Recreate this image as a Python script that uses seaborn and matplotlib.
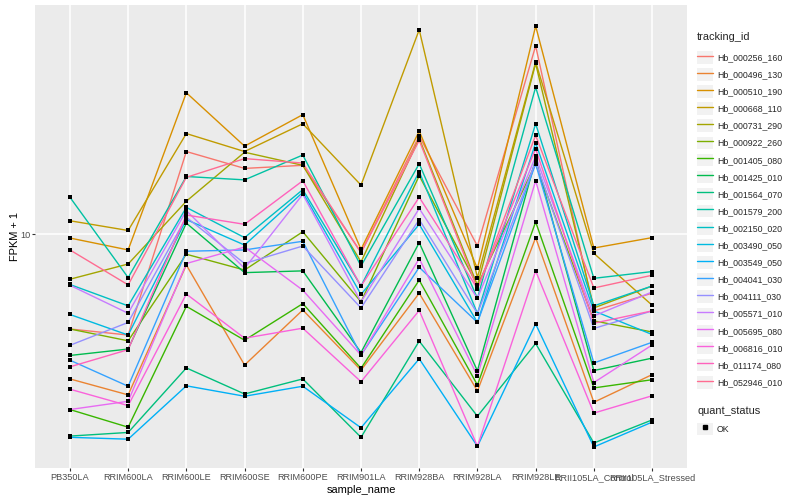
import numpy as np
import pandas as pd
import matplotlib
matplotlib.use("Agg")
import matplotlib.pyplot as plt
import seaborn as sns
from matplotlib.lines import Line2D
from matplotlib.patches import Patch
from matplotlib.legend_handler import HandlerTuple
from matplotlib.ticker import FixedLocator, FixedFormatter, NullLocator

samples = ["PB350LA", "RRIM600LA", "RRIM600LE", "RRIM600SE", "RRIM600PE", "RRIM901LA",
           "RRIM928BA", "RRIM928LA", "RRIM928LE", "RRII105LA_Control", "RRII105LA_Stressed"]

tracking_ids = ["Hb_000256_160", "Hb_000496_130", "Hb_000510_190", "Hb_000668_110",
                "Hb_000731_290", "Hb_000922_260", "Hb_001405_080", "Hb_001425_010",
                "Hb_001564_070", "Hb_001579_200", "Hb_002150_020", "Hb_003490_050",
                "Hb_003549_050", "Hb_004041_030", "Hb_004111_030", "Hb_005571_010",
                "Hb_005695_080", "Hb_006816_010", "Hb_011174_080", "Hb_052946_010"]

# ggplot hue palette, 20 levels
colors = ["#F8766D", "#EA8331", "#D89000", "#C09B00", "#A3A500", "#7CAE00", "#39B600",
          "#00BB4E", "#00BF7D", "#00C1A3", "#00BFC4", "#00BAE0", "#00B0F6", "#35A2FF",
          "#9590FF", "#C77CFF", "#E76BF3", "#FA62DB", "#FF62BC", "#FF6C91"]

# FPKM + 1, one list per gene, in sample order
hb_000256_160 = [4.83, 4.61, 18.9, 16.6, 17.0, 8.69, 21.3, 9.14, 42.6, 5.55, 6.36]
hb_000496_130 = [3.29, 2.91, 7.90, 3.66, 5.59, 3.52, 6.36, 3.00, 9.75, 2.75, 3.40]
hb_000510_190 = [9.72, 8.87, 29.7, 19.7, 25.1, 8.91, 22.1, 7.69, 49.6, 9.00, 9.75]
hb_000668_110 = [11.1, 10.3, 21.7, 18.9, 23.4, 14.6, 48.2, 7.17, 37.6, 8.64, 5.80]
hb_000731_290 = [7.08, 7.96, 12.9, 18.8, 17.0, 8.09, 20.9, 6.76, 37.2, 5.68, 6.72]
hb_000922_260 = [4.83, 4.41, 8.58, 7.60, 10.2, 5.95, 15.7, 6.76, 17.2, 5.14, 4.72]
hb_001405_080 = [2.60, 2.27, 5.75, 4.43, 5.87, 3.57, 7.03, 3.14, 11.0, 3.07, 3.27]
hb_001425_010 = [3.94, 4.14, 10.9, 7.45, 7.55, 4.03, 9.38, 3.50, 17.8, 3.51, 3.86]
hb_001564_070 = [2.12, 2.18, 3.58, 2.93, 3.29, 2.10, 4.40, 2.47, 4.32, 2.01, 2.40]
hb_001579_200 = [13.3, 7.17, 15.6, 15.2, 18.4, 7.84, 17.2, 6.11, 31.0, 7.13, 7.51]
hb_002150_020 = [6.80, 5.77, 12.3, 9.75, 14.1, 6.72, 16.2, 5.44, 23.4, 5.77, 6.72]
hb_003490_050 = [5.40, 4.61, 11.2, 9.21, 13.8, 6.30, 10.8, 5.08, 20.2, 5.55, 4.63]
hb_003549_050 = [2.10, 2.07, 3.12, 2.88, 3.11, 2.26, 3.84, 1.96, 5.02, 1.95, 2.36]
hb_004041_030 = [3.80, 3.11, 8.78, 8.87, 9.48, 3.95, 7.76, 5.08, 17.2, 3.72, 4.36]
hb_004111_030 = [4.26, 5.08, 11.4, 7.99, 9.14, 5.68, 11.2, 5.44, 17.5, 4.85, 5.55]
hb_005571_010 = [6.76, 5.45, 12.0, 7.70, 13.6, 5.95, 12.2, 6.11, 18.2, 5.34, 6.42]
hb_005695_080 = [2.60, 2.77, 7.99, 9.07, 6.51, 3.95, 8.30, 3.37, 15.1, 3.20, 4.27]
hb_006816_010 = [3.04, 2.68, 6.32, 4.50, 4.86, 3.22, 5.57, 1.96, 7.55, 2.53, 2.89]
hb_011174_080 = [3.61, 4.12, 11.6, 10.8, 15.1, 6.72, 13.3, 6.59, 19.3, 5.05, 5.55]
hb_052946_010 = [8.87, 6.78, 15.5, 17.9, 17.3, 8.69, 20.6, 6.59, 21.4, 6.62, 7.30]

series = [hb_000256_160, hb_000496_130, hb_000510_190, hb_000668_110, hb_000731_290,
          hb_000922_260, hb_001405_080, hb_001425_010, hb_001564_070, hb_001579_200,
          hb_002150_020, hb_003490_050, hb_003549_050, hb_004041_030, hb_004111_030,
          hb_005571_010, hb_005695_080, hb_006816_010, hb_011174_080, hb_052946_010]

rows = []
for tid, vals in zip(tracking_ids, series):
    for s, v in zip(samples, vals):
        rows.append({"tracking_id": tid, "sample_name": s, "fpkm": v, "quant_status": "OK"})
df = pd.DataFrame(rows)

sns.set_theme(style="darkgrid", rc={"axes.facecolor": "#EBEBEB", "grid.color": "white"})
plt.rcParams["font.family"] = ["Liberation Sans", "DejaVu Sans"]

fig = plt.figure(figsize=(8, 5), dpi=100)
ax = fig.add_axes([35 / 800, 32 / 500, 652 / 800, 463 / 500])

sns.lineplot(data=df, x="sample_name", y="fpkm", hue="tracking_id", hue_order=tracking_ids,
             palette=colors, estimator=None, sort=False, legend=False, lw=1.0, ax=ax)
sns.scatterplot(data=df, x="sample_name", y="fpkm", color="black", marker="s", s=10,
                linewidth=0, legend=False, ax=ax, zorder=3)

ax.set_yscale("log")
lo, hi = np.log10(df["fpkm"].min()), np.log10(df["fpkm"].max())
pad = 0.05 * (hi - lo)
ax.set_ylim(10 ** (lo - pad), 10 ** (hi + pad))
ax.set_xlim(-0.6, len(samples) - 0.4)
ax.yaxis.set_major_locator(FixedLocator([10]))
ax.yaxis.set_major_formatter(FixedFormatter(["10"]))
ax.yaxis.set_minor_locator(NullLocator())
ax.grid(True, which="major", color="white", lw=1.1)

ax.tick_params(axis="both", which="major", bottom=True, left=True, length=2, width=0.8,
               color="#333333", labelcolor="#4D4D4D", labelsize=6.6, pad=1.5)
for sp in ax.spines.values():
    sp.set_visible(False)
ax.set_xlabel("sample_name", fontsize=7.9, color="black", labelpad=2)
ax.set_ylabel("FPKM + 1", fontsize=7.9, color="black", labelpad=0)

key = "#F2F2F2"
h1 = [(Patch(facecolor=key, edgecolor="none"), Line2D([], [], color=c, lw=1.0)) for c in colors]
leg1 = fig.legend(h1, tracking_ids, handler_map={tuple: HandlerTuple(ndivide=1, pad=0)},
                  title="tracking_id", loc="upper left", bbox_to_anchor=(697 / 800, 1 - 32 / 500),
                  frameon=False, fontsize=6.3, title_fontsize=7.9, handlelength=1.83,
                  handleheight=1.83, labelspacing=0.52, handletextpad=0.45, borderpad=0,
                  borderaxespad=0, alignment="left")
leg1._legend_box.sep = 6.5

h2 = [(Patch(facecolor=key, edgecolor="none"),
       Line2D([], [], ls="none", marker="s", color="black", ms=3))]
leg2 = fig.legend(h2, ["OK"], handler_map={tuple: HandlerTuple(ndivide=1, pad=0)},
                  title="quant_status", loc="upper left", bbox_to_anchor=(697 / 800, 1 - 406 / 500),
                  frameon=False, fontsize=6.3, title_fontsize=7.9, handlelength=1.83,
                  handleheight=1.83, handletextpad=0.45, borderpad=0, borderaxespad=0,
                  alignment="left")
leg2._legend_box.sep = 5

fig.savefig("out.png", dpi=100)
